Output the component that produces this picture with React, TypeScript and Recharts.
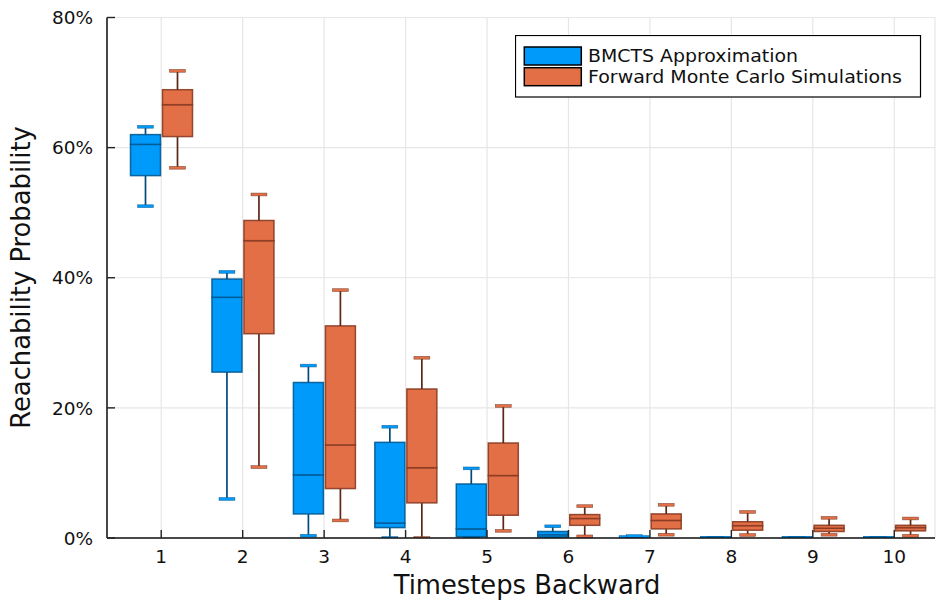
import React from 'react';
import { ComposedChart, Bar, XAxis, YAxis, CartesianGrid, Legend, Label } from 'recharts';

// ---- data (percent) ----
const timesteps = [1, 2, 3, 4, 5, 6, 7, 8, 9, 10];
const seriesNames = ['BMCTS Approximation', 'Forward Monte Carlo Simulations'];
const yTicks = [0, 20, 40, 60, 80];

const bmctsMin = [51.0, 6.0, 0.35, 0, 0, 0, 0, 0, 0, 0];
const bmctsQ1 = [55.7, 25.5, 3.7, 1.6, 0.2, 0.15, 0, 0, 0, 0];
const bmctsMed = [60.5, 37.0, 9.7, 2.3, 1.4, 0.5, 0.05, 0, 0, 0];
const bmctsQ3 = [62.0, 39.8, 23.9, 14.7, 8.3, 1.0, 0.25, 0, 0, 0];
const bmctsMax = [63.2, 40.9, 26.5, 17.1, 10.7, 1.8, 0.3, 0, 0, 0];

const fwdMin = [56.9, 10.9, 2.7, 0, 1.1, 0.25, 0.5, 0.46, 0.5, 0.35];
const fwdQ1 = [61.7, 31.4, 7.6, 5.4, 3.5, 1.95, 1.4, 1.2, 1.0, 1.1];
const fwdMed = [66.6, 45.7, 14.3, 10.8, 9.6, 3.0, 2.7, 1.9, 1.5, 1.6];
const fwdQ3 = [68.9, 48.8, 32.6, 22.9, 14.6, 3.6, 3.7, 2.5, 1.95, 1.95];
const fwdMax = [71.8, 52.8, 38.1, 27.7, 20.3, 4.9, 5.1, 4.0, 3.1, 3.0];

// ---- styles ----
const BLUE = '#009AFA';
const BLUE_DARK = '#005a94';
const BLUE_STEM = '#004a7c';
const ORANGE = '#E26F46';
const ORANGE_DARK = '#8a3b22';
const ORANGE_STEM = '#5e2614';
const FONT = 'DejaVu Sans';

// stacked increments table built from quantile arrays
const table = timesteps.map((t, i) => ({
  cat: t,
  bBase: bmctsMin[i],
  bLw: bmctsQ1[i] - bmctsMin[i],
  bLb: bmctsMed[i] - bmctsQ1[i],
  bUb: bmctsQ3[i] - bmctsMed[i],
  bUw: bmctsMax[i] - bmctsQ3[i],
  fBase: fwdMin[i],
  fLw: fwdQ1[i] - fwdMin[i],
  fLb: fwdMed[i] - fwdQ1[i],
  fUb: fwdQ3[i] - fwdMed[i],
  fUw: fwdMax[i] - fwdQ3[i],
}));

const Empty = () => <g />;

function makeWhisker(kind: 'lower' | 'upper', color: string, stem: string) {
  return (p: any) => {
    const { x, y, width, height } = p;
    if (x == null || y == null || isNaN(y)) return <g />;
    const cx = x + width / 2;
    const top = Math.min(y, y + height);
    const bot = Math.max(y, y + height);
    const capY = kind === 'lower' ? bot : top;
    const capW = width * 0.53;
    return (
      <g>
        <line x1={cx} x2={cx} y1={top} y2={bot} stroke={stem} strokeWidth={1.7} />
        <rect x={cx - capW / 2} y={capY - 1.4} width={capW} height={2.8} fill={color} stroke={stem} strokeWidth={0.6} strokeOpacity={0.7} />
      </g>
    );
  };
}

function makeBox(color: string, dark: string) {
  return (p: any) => {
    const { x, y, width, height } = p;
    if (x == null || y == null || isNaN(y)) return <g />;
    const top = Math.min(y, y + height);
    const h = Math.abs(height);
    if (h < 2) {
      return <rect x={x} y={top + h / 2 - 1.5} width={width} height={3} fill={color} stroke={dark} strokeWidth={0.6} strokeOpacity={0.7} />;
    }
    return <rect x={x} y={top} width={width} height={h} fill={color} stroke={dark} strokeWidth={1.5} strokeOpacity={0.9} />;
  };
}

const XTick = (p: any) => {
  const { x, y, payload } = p;
  return (
    <g>
      <line x1={x} x2={x} y1={y} y2={y - 8} stroke="#222" strokeWidth={1.4} />
      <text x={x} y={y + 25} textAnchor="middle" fontFamily={FONT} fontSize={18.5} fill="#111">
        {payload.value}
      </text>
    </g>
  );
};

const YTick = (p: any) => {
  const { x, y, payload } = p;
  return (
    <g>
      <line x1={x} x2={x + 8} y1={y} y2={y} stroke="#222" strokeWidth={1.4} />
      <text x={x - 14} y={y + 6.7} textAnchor="end" fontFamily={FONT} fontSize={18.5} fill="#111">
        {`${payload.value}%`}
      </text>
    </g>
  );
};

const LegendBox = () => (
  <svg width={407} height={63} style={{ display: 'block' }}>
    <rect x={0.5} y={0.5} width={405} height={61.5} fill="#fff" stroke="#000" strokeWidth={1.2} />
    <rect x={9.3} y={12} width={57} height={18} fill={BLUE} stroke="#000" strokeWidth={1.5} />
    <rect x={9.3} y={32.7} width={57} height={18} fill={ORANGE} stroke="#000" strokeWidth={1.5} />
    <text x={73} y={26.8} fontFamily={FONT} fontSize={17.8} textLength={210} lengthAdjust="spacingAndGlyphs" fill="#111">{seriesNames[0]}</text>
    <text x={73} y={47.6} fontFamily={FONT} fontSize={17.8} textLength={314} lengthAdjust="spacingAndGlyphs" fill="#111">{seriesNames[1]}</text>
  </svg>
);

export default function App() {
  return (
    <div style={{ position: 'absolute', left: 0, top: 0, background: '#fff' }}>
      <ComposedChart
        width={936}
        height={603}
        data={table}
        margin={{ top: 17.5, right: 1, left: 0, bottom: 0 }}
        barSize={30}
        barGap={2}
      >
        <CartesianGrid stroke="#e6e6e6" strokeWidth={1.2} />
        <XAxis
          dataKey="cat"
          type="category"
          interval={0}
          padding={{ left: 13.5, right: 0 }}
          height={65}
          tickSize={0}
          tickMargin={0}
          tickLine={false}
          axisLine={{ stroke: '#111', strokeWidth: 1.5 }}
          tick={<XTick />}
        >
          <Label
            content={() => (
              <text x={527} y={594} textAnchor="middle" fontFamily={FONT} fontSize={25.8} fill="#111">
                Timesteps Backward
              </text>
            )}
          />
        </XAxis>
        <YAxis
          type="number"
          domain={[0, 80]}
          ticks={yTicks}
          width={107}
          tickSize={0}
          tickMargin={0}
          tickLine={false}
          axisLine={{ stroke: '#111', strokeWidth: 1.5 }}
          tick={<YTick />}
          allowDataOverflow
        >
          <Label
            content={() => (
              <text x={30} y={277.5} transform="rotate(-90, 30, 277.5)" textAnchor="middle" fontFamily={FONT} fontSize={25.8} fill="#111">
                Reachability Probability
              </text>
            )}
          />
        </YAxis>
        <Legend
          layout="vertical"
          align="center"
          verticalAlign="middle"
          content={() => <LegendBox />}
          wrapperStyle={{ position: 'absolute', left: 515, top: 35, width: 407, height: 63 }}
        />
        <Bar dataKey="bBase" stackId="b" shape={Empty} isAnimationActive={false} />
        <Bar dataKey="bLw" stackId="b" shape={makeWhisker('lower', BLUE, BLUE_STEM)} isAnimationActive={false} />
        <Bar dataKey="bLb" stackId="b" shape={makeBox(BLUE, BLUE_DARK)} isAnimationActive={false} />
        <Bar dataKey="bUb" stackId="b" shape={makeBox(BLUE, BLUE_DARK)} isAnimationActive={false} />
        <Bar dataKey="bUw" stackId="b" shape={makeWhisker('upper', BLUE, BLUE_STEM)} isAnimationActive={false} />
        <Bar dataKey="fBase" stackId="f" shape={Empty} isAnimationActive={false} />
        <Bar dataKey="fLw" stackId="f" shape={makeWhisker('lower', ORANGE, ORANGE_STEM)} isAnimationActive={false} />
        <Bar dataKey="fLb" stackId="f" shape={makeBox(ORANGE, ORANGE_DARK)} isAnimationActive={false} />
        <Bar dataKey="fUb" stackId="f" shape={makeBox(ORANGE, ORANGE_DARK)} isAnimationActive={false} />
        <Bar dataKey="fUw" stackId="f" shape={makeWhisker('upper', ORANGE, ORANGE_STEM)} isAnimationActive={false} />
      </ComposedChart>
    </div>
  );
}
